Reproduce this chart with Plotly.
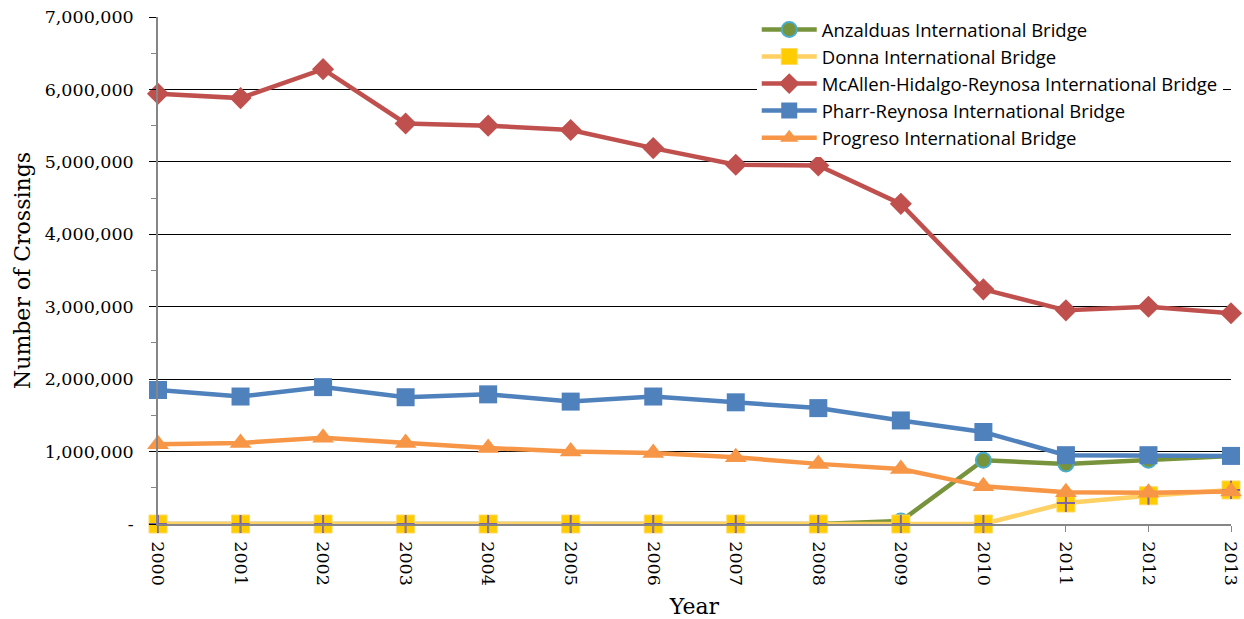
import plotly.graph_objects as go

years = list(range(2000, 2014))

anzalduas = [0, 0, 0, 0, 0, 0, 0, 0, 0, 40000, 880000, 830000, 880000, 940000]
donna = [0, 0, 0, 0, 0, 0, 0, 0, 0, 0, 0, 290000, 390000, 470000]
mcallen = [5940000, 5880000, 6280000, 5530000, 5500000, 5440000, 5190000,
           4960000, 4950000, 4420000, 3240000, 2950000, 3000000, 2910000]
pharr = [1850000, 1760000, 1890000, 1750000, 1790000, 1690000, 1760000,
         1680000, 1600000, 1430000, 1270000, 950000, 950000, 940000]
progreso = [1100000, 1120000, 1190000, 1120000, 1050000, 1000000, 980000,
            920000, 830000, 760000, 520000, 440000, 430000, 450000]

y_ticks = [0, 1000000, 2000000, 3000000, 4000000, 5000000, 6000000, 7000000]
y_tick_text = ["-", "1,000,000", "2,000,000", "3,000,000", "4,000,000",
               "5,000,000", "6,000,000", "7,000,000"]

SERIF = "DejaVu Serif"
SANS = "Open Sans"

fig = go.Figure()

fig.add_trace(go.Scatter(
    x=years, y=anzalduas, name="Anzalduas International Bridge",
    mode="lines+markers", cliponaxis=False,
    line=dict(color="#77933C", width=4.5),
    marker=dict(symbol="circle", size=15, color="#77933C",
                line=dict(color="#4BACC6", width=2)),
))

fig.add_trace(go.Scatter(
    x=years, y=donna, name="Donna International Bridge",
    mode="lines+markers", cliponaxis=False,
    line=dict(color="#FFD064", width=4.5),
    marker=dict(symbol="square", size=18, color="#FFCC00",
                line=dict(color="#FFD966", width=1)),
))
# purple plus drawn inside each Donna square
fig.add_trace(go.Scatter(
    x=years, y=donna, name="Donna International Bridge",
    mode="markers", cliponaxis=False, showlegend=False, hoverinfo="skip",
    marker=dict(symbol="cross-thin", size=13,
                line=dict(color="#8064A2", width=2)),
))

fig.add_trace(go.Scatter(
    x=years, y=mcallen, name="McAllen-Hidalgo-Reynosa International Bridge",
    mode="lines+markers", cliponaxis=False,
    line=dict(color="#C0504D", width=4.5),
    marker=dict(symbol="diamond", size=17, color="#C0504D"),
))

fig.add_trace(go.Scatter(
    x=years, y=pharr, name="Pharr-Reynosa International Bridge",
    mode="lines+markers", cliponaxis=False,
    line=dict(color="#4F81BD", width=4.5),
    marker=dict(symbol="square", size=18, color="#4F81BD"),
))

fig.add_trace(go.Scatter(
    x=years, y=progreso, name="Progreso International Bridge",
    mode="lines+markers", cliponaxis=False,
    line=dict(color="#F79646", width=4.5),
    marker=dict(symbol="triangle-up", size=19, color="#F79646"),
))

fig.update_layout(
    width=1244, height=619,
    margin=dict(l=158, r=13, t=16, b=95),
    paper_bgcolor="white", plot_bgcolor="white",
    showlegend=True,
    legend=dict(
        x=0.558, y=1.01, xanchor="left", yanchor="top",
        bgcolor="white", borderwidth=0,
        font=dict(family=SANS, size=18.5, color="#000000"),
        itemwidth=55, traceorder="normal",
    ),
    xaxis=dict(
        range=[2000, 2013], tickmode="array", tickvals=years,
        ticktext=[str(y) for y in years], tickangle=90,
        tickfont=dict(family=SERIF, size=17.5, color="#000000"),
        showgrid=False, zeroline=False, automargin=False,
        showline=True, linecolor="#868686", linewidth=1.5,
        ticks="outside", ticklen=6, tickcolor="#868686",
        ticklabelstandoff=6,
        title=dict(text="Year", font=dict(family=SERIF, size=22, color="#000000"),
                   standoff=14),
    ),
    yaxis=dict(
        range=[0, 7000000], tickmode="array", tickvals=y_ticks,
        ticktext=y_tick_text,
        tickfont=dict(family=SERIF, size=17.5, color="#000000"),
        showgrid=True, gridcolor="#000000", gridwidth=1,
        zeroline=False, automargin=False,
        showline=True, linecolor="#868686", linewidth=1.5,
        ticks="outside", ticklen=7, tickcolor="#000000",
        minor=dict(ticks="outside", ticklen=5, tickcolor="#868686",
                   dtick=500000, showgrid=False),
        ticklabelstandoff=12,
        title=dict(text="Number of Crossings",
                   font=dict(family=SERIF, size=22, color="#000000"),
                   standoff=8),
    ),
)

fig.write_html("out.html")
